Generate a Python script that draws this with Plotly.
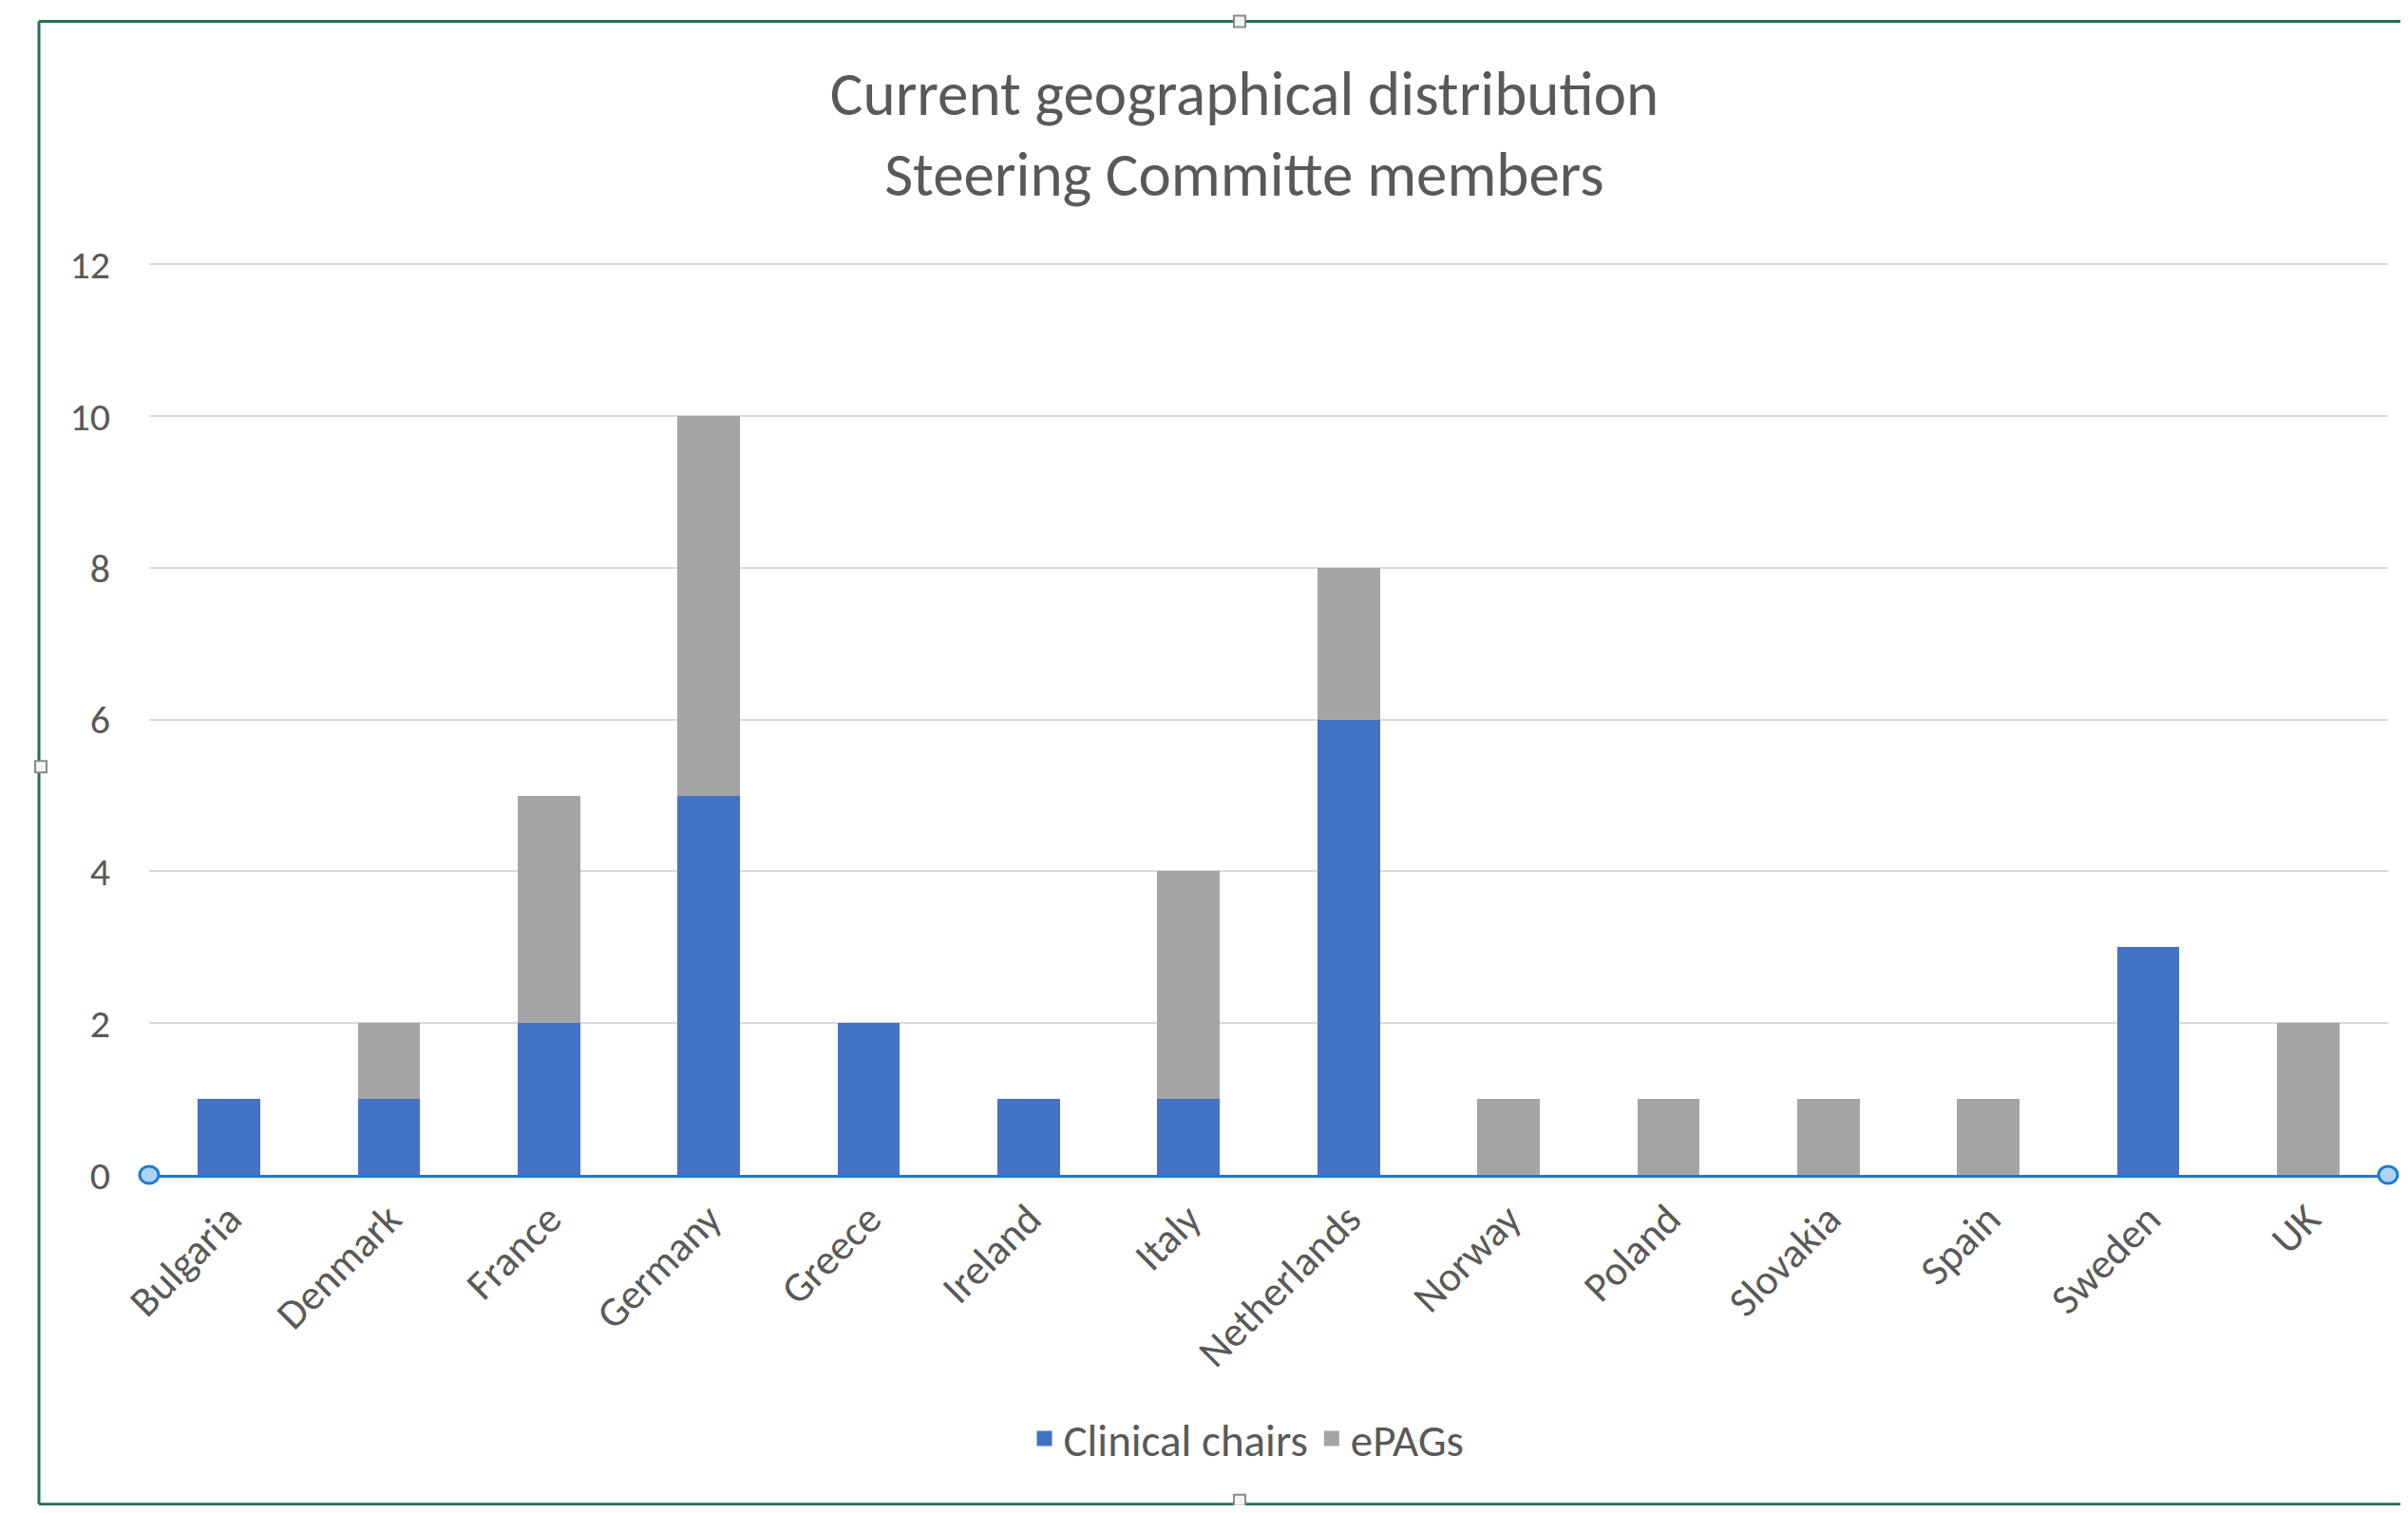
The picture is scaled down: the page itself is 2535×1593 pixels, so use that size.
import plotly.graph_objects as go

countries = ["Bulgaria", "Denmark", "France", "Germany", "Greece", "Ireland", "Italy",
             "Netherlands", "Norway", "Poland", "Slovakia", "Spain", "Sweden", "UK"]
clinical_chairs = [1, 1, 2, 5, 2, 1, 1, 6, 0, 0, 0, 0, 3, 0]
epags = [0, 1, 3, 5, 0, 0, 3, 2, 1, 1, 1, 1, 0, 2]
y_ticks = [0, 2, 4, 6, 8, 10, 12]

FONT = "Carlito, Calibri, Lato, sans-serif"
TXT = "#595959"
BLUE = "#4472C4"
GREY = "#A5A5A5"

OFF = 8  # page body margin
W, H = 2519, 1577
YMAX = 12.03
PX_PER_UNIT = 959 / 12
PW = 2357
PH = PX_PER_UNIT * YMAX
L = 157 - OFF
T = (1237 - OFF) - PH
R = W - L - PW
B = H - T - PH


def px_x(ref_px):
    return (ref_px - OFF - L) / PW


def px_y(ref_py):
    return (T + PH - (ref_py - OFF)) / PH


fig = go.Figure()
fig.add_trace(go.Bar(x=countries, y=clinical_chairs, name="Clinical chairs",
                     marker=dict(color=BLUE, line=dict(width=0)), showlegend=False))
fig.add_trace(go.Bar(x=countries, y=epags, name="ePAGs",
                     marker=dict(color=GREY, line=dict(width=0)), showlegend=False))
# legend entries (larger square symbols)
for nm, col in [("Clinical chairs", BLUE), ("ePAGs", GREY)]:
    fig.add_trace(go.Scatter(x=[None], y=[None], mode="markers", name=nm,
                             marker=dict(symbol="square", size=16, color=col)))

shapes = []
green = "#217346"
# selection frame
shapes.append(dict(type="line", xref="paper", yref="paper", x0=px_x(41), x1=px_x(41),
                   y0=px_y(22), y1=px_y(1584), line=dict(color=green, width=3)))
shapes.append(dict(type="line", xref="paper", yref="paper", x0=px_x(41), x1=px_x(2545),
                   y0=px_y(22), y1=px_y(22), line=dict(color=green, width=3)))
shapes.append(dict(type="line", xref="paper", yref="paper", x0=px_x(41), x1=px_x(2545),
                   y0=px_y(1584), y1=px_y(1584), line=dict(color=green, width=3)))
# handles on frame
for hx, hy in [(1305, 22), (1305, 1580), (43, 807)]:
    shapes.append(dict(type="rect", xref="paper", yref="paper",
                       xsizemode="pixel", ysizemode="pixel",
                       xanchor=px_x(hx), yanchor=px_y(hy), x0=-6, x1=6, y0=-6, y1=6,
                       fillcolor="#f4f4f4", line=dict(color="#8a8a8a", width=2)))
# axis end handles
for ax in [0, 1]:
    shapes.append(dict(type="circle", xref="paper", yref="paper",
                       xsizemode="pixel", ysizemode="pixel",
                       xanchor=ax, yanchor=0, x0=-10, x1=10, y0=-9, y1=9,
                       fillcolor="#aed3f7", line=dict(color="#1f7bd6", width=3)))

fig.update_layout(
    width=W, height=H,
    barmode="stack", bargap=0.61,
    plot_bgcolor="white", paper_bgcolor="white",
    margin=dict(l=L, r=R, t=T, b=B),
    font=dict(family=FONT, color=TXT, size=40),
    title=dict(text="Current geographical distribution<br>Steering Committe members",
               x=(1310 - OFF) / W, xanchor="center", xref="container",
               y=1 - (121 - OFF) / H, yanchor="middle", yref="container",
               font=dict(family=FONT, size=65, color=TXT)),
    legend=dict(orientation="h", x=px_x(1313), xanchor="center", y=px_y(1515), yanchor="middle",
                font=dict(family=FONT, size=47, color=TXT),
                traceorder="normal", tracegroupgap=0, itemwidth=30),
    shapes=shapes,
    showlegend=True,
)
fig.update_xaxes(tickangle=-45, showline=True, linecolor="#1f78d1", linewidth=3,
                 ticks="", showgrid=False, tickfont=dict(family=FONT, size=44, color=TXT))
fig.update_yaxes(range=[0, YMAX], tickvals=y_ticks, showgrid=True, gridcolor="#d9d9d9",
                 gridwidth=2, zeroline=False, showline=False, ticks="",
                 ticklabelstandoff=40, tickfont=dict(family=FONT, size=42, color=TXT))

fig.write_html("out.html")
